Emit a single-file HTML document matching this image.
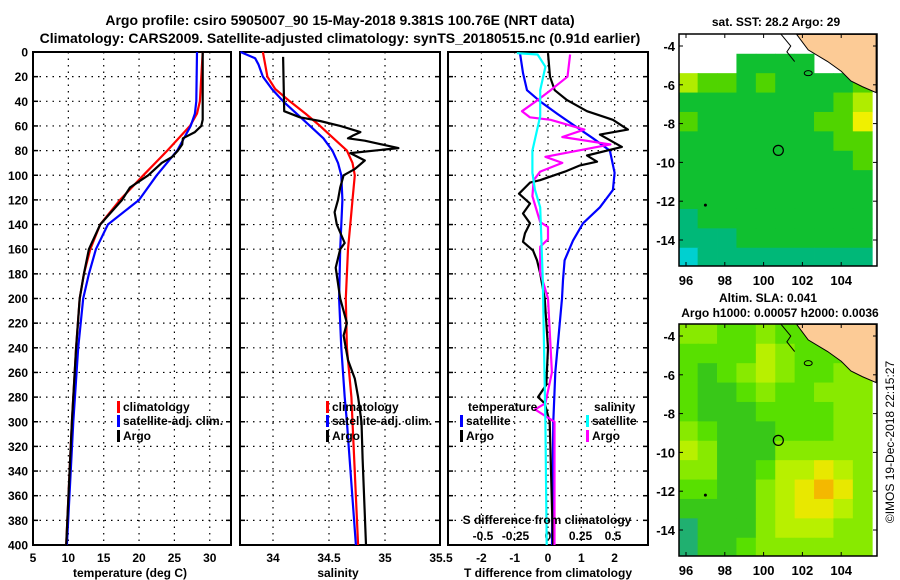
<!DOCTYPE html>
<html><head><meta charset="utf-8"><style>
html,body{margin:0;padding:0;background:#fff;}
svg{display:block;font-family:"Liberation Sans",sans-serif;font-weight:bold;}
</style></head><body>
<svg id="fig" width="900" height="580" viewBox="0 0 900 580" xmlns="http://www.w3.org/2000/svg">
<text x="340" y="25" font-size="14" text-anchor="middle">Argo profile: csiro 5905007_90 15-May-2018 9.381S 100.76E (NRT data)</text>
<text x="340" y="43" font-size="14" text-anchor="middle">Climatology: CARS2009. Satellite-adjusted climatology: synTS_20180515.nc (0.91d earlier)</text>
<g id="plots"></g>
</svg>
<script>
// ---- data: temperature panel ----
const tClimDepth=[0,40,50,60,80,100,120,140,160,180,200,240,300,400];
const tClim=[29.0,28.6,28.2,27.2,24.0,20.6,17.3,14.5,13.1,12.2,11.6,11.1,10.5,9.7];
const tSatDepth=[0,40,50,60,80,100,120,140,160,180,200,240,300,400];
const tSat=[28.2,28.1,27.9,27.3,25.4,22.5,20.0,15.6,13.9,12.9,12.1,11.4,10.7,9.8];
const tArgoDepth=[0,55,60,65,70,75,80,85,90,100,110,120,140,160,180,200,240,300,400];
const tArgo=[29.0,29.0,28.8,27.9,26.2,26.1,25.5,24.7,23.2,21.3,18.7,17.6,14.5,12.9,12.2,11.6,11.1,10.5,9.7];
// ---- data: salinity panel ----
const sClimDepth=[0,20,30,40,50,60,70,80,90,100,120,140,160,200,240,280,300,400];
const sClim=[33.91,33.95,34.02,34.15,34.29,34.42,34.54,34.66,34.71,34.73,34.71,34.69,34.67,34.65,34.66,34.70,34.71,34.76];
const sSatDepth=[0,5,10,20,30,40,50,60,70,80,90,100,120,160,200,240,280,300,400];
const sSat=[33.71,33.84,33.87,33.91,33.99,34.09,34.21,34.33,34.45,34.53,34.58,34.61,34.62,34.60,34.59,34.61,34.64,34.66,34.74];
const sArgoDepth=[4,48,53,56,60,65,68,70,72,78,82,88,95,100,110,120,130,140,155,160,175,200,220,230,250,265,280,300,330,400];
const sArgo=[34.09,34.10,34.24,34.42,34.60,34.78,34.71,34.67,34.82,35.12,34.69,34.82,34.73,34.63,34.60,34.58,34.55,34.57,34.64,34.60,34.56,34.60,34.66,34.63,34.67,34.73,34.76,34.79,34.80,34.83];
// ---- data: difference panel ----
const dTSatDepth=[1,17,31,40,50,59,70,80,98,112,126,139,153,169,185,200,260,300,400];
const dTSat=[-0.84,-0.75,-0.63,-0.24,0.27,0.75,1.35,1.86,2.0,1.95,1.56,1.05,0.75,0.5,0.45,0.42,0.22,0.16,0.12];
const dTArgoDepth=[1,20,31,39,48,55,63,67,77,84,89,92,97,104,106,115,123,131,139,147,154,161,169,179,200,240,270,280,285,300,400];
const dTArgo=[0,0.06,0.2,0.57,1.17,1.95,2.4,1.56,2.22,1.17,1.47,0.96,0.51,-0.24,-0.54,-0.87,-0.54,-0.75,-0.54,-0.69,-0.75,-0.45,-0.33,-0.24,-0.1,0,-0.05,-0.3,-0.1,0.05,0.15];
const dSArgoDepth=[2,20,31,39,48,53,55,63,69,75,85,90,97,104,117,131,138,142,152,158,179,200,260,285,290,300,400];
const dSArgo=[0.17,0.15,0.02,-0.08,-0.2,-0.14,0.02,0.28,0.11,0.48,-0.02,0.11,-0.06,-0.11,-0.12,-0.08,-0.06,0,0,-0.06,-0.06,0.0,0.03,-0.02,-0.1,0.05,0.05];
const dSSatDepth=[1,2,12,31,52,80,98,112,126,185,300,400];
const dSSat=[-0.24,-0.08,-0.02,-0.06,-0.06,-0.12,-0.12,-0.1,-0.06,-0.04,-0.02,-0.01];
// ---- tick labels ----
const depthTicks=[0,20,40,60,80,100,120,140,160,180,200,220,240,260,280,300,320,340,360,380,400];
const tTicks=[5,10,15,20,25,30];
const sTicks=[34,34.5,35,35.5];
const dTTicks=[-2,-1,0,1,2];
const dSTicks=[-0.5,-0.25,0,0.25,0.5];
const latTicks=[-4,-6,-8,-10,-12,-14];
const lonTicks=[96,98,100,102,104];
// ---- map grids (1-degree cells, rows from -3.4 southward, cols from 95.6 eastward) ----
const sstGrid=[
[-1,-1,-1,-1,-1,-1,-1,-1,-1,-1],
[-1,-1,-1,2,2,2,2,-1,-1,-1],
[4,3,3,2,3,2,2,2,2,3],
[2,2,2,2,2,2,2,2,3,4],
[3,2,2,2,2,2,2,3,3,5],
[2,2,2,2,2,2,2,2,3,3],
[2,2,2,2,2,2,2,2,2,3],
[2,2,2,2,2,2,2,2,2,2],
[2,2,2,2,2,2,2,2,2,2],
[1,2,2,2,2,2,2,2,2,2],
[1,1,1,2,2,2,2,2,2,2],
[0,1,1,1,1,1,1,1,1,1]];
const slaGrid=[
[3,3,2,2,3,2,2,2,2,2],
[2,2,2,2,4,3,2,2,2,2],
[2,1,2,3,4,3,2,2,3,3],
[2,1,1,2,3,2,2,3,3,3],
[2,1,1,1,2,2,2,2,3,3],
[3,2,1,1,1,2,2,2,3,3],
[4,3,1,1,1,3,3,3,3,3],
[3,3,1,1,2,4,4,5,4,3],
[2,2,1,1,3,4,5,6,5,3],
[1,1,1,1,3,4,5,5,4,3],
[0,1,1,1,3,4,4,4,3,3],
[0,1,1,2,3,3,3,3,3,3]];

const NS='http://www.w3.org/2000/svg';
const root=document.getElementById('plots');
function el(tag,attrs,parent,txt){const e=document.createElementNS(NS,tag);for(const k in attrs)e.setAttribute(k,attrs[k]);if(txt!==undefined)e.textContent=txt;(parent||root).appendChild(e);return e;}
const yD=d=>52+d*1.2325;
const xT=t=>33+(t-5)*7.07;
const xS=s=>273+(s-34)*112;
const xDT=t=>548+t*33.3;
const xDS=s=>548+s*130;
const TOP=52,BOT=545;

function panel(x0,x1,name,vTicks,xf,labels){
  const g=el('g',{});
  
  
  depthTicks.forEach(d=>{ if(d>0&&d<400){el('line',{x1:x0,x2:x1,y1:yD(d),y2:yD(d),stroke:'#000','stroke-width':1.2,'stroke-dasharray':'1.5,5'},g);}
    el('line',{x1:x0,x2:x0+5,y1:yD(d),y2:yD(d),stroke:'#000','stroke-width':1.5},g);
    el('line',{x1:x1-5,x2:x1,y1:yD(d),y2:yD(d),stroke:'#000','stroke-width':1.5},g);});
  vTicks.forEach(v=>{const x=xf(v); if(x>x0+2&&x<x1-2) el('line',{x1:x,x2:x,y1:TOP,y2:BOT,stroke:'#000','stroke-width':1.2,'stroke-dasharray':'1.5,5'},g);});
  if(labels) labels.forEach(v=>{const t=el('text',{x:xf(v),y:562,'font-size':12,'text-anchor':'middle'},g,String(v));
    
    });
  el('rect',{x:x0,y:TOP,width:x1-x0,height:BOT-TOP,fill:'none',stroke:'#000','stroke-width':2},g);
  return g;
}
function line(depths,vals,xf,color,name){
  const pts=depths.map((d,i)=>xf(vals[i]).toFixed(1)+','+yD(d).toFixed(1)).join(' ');
  const p=el('polyline',{points:pts,fill:'none',stroke:color,'stroke-width':2.2,'stroke-linejoin':'round'});
  
  
}
// y tick labels
depthTicks.forEach(d=>{const t=el('text',{x:28,y:yD(d)+4.5,'font-size':12,'text-anchor':'end'},root,String(d));
  
  });
panel(33,231,'temperature-panel',[10,15,20,25,30],xT,tTicks);
panel(240,440,'salinity-panel',sTicks,xS,null);
sTicks.forEach(v=>{const t=el('text',{x:xS(v),y:562,'font-size':12,'text-anchor':'middle'},root,String(v));
  
  });
const sl=el('text',{x:xS(33.7),y:562,'font-size':12,'text-anchor':'start'},root,'');
panel(448,648,'difference-panel',dTTicks,xDT,dTTicks);
dSTicks.forEach(v=>{const t=el('text',{x:xDS(v),y:540,'font-size':12,'text-anchor':'middle'},root,String(v));
  
  });

line(tClimDepth,tClim,xT,'#f00','temp-climatology-line');
line(tSatDepth,tSat,xT,'#00f','temp-satellite-line');
line(tArgoDepth,tArgo,xT,'#000','temp-argo-line');
line(sClimDepth,sClim,xS,'#f00','sal-climatology-line');
line(sSatDepth,sSat,xS,'#00f','sal-satellite-line');
line(sArgoDepth,sArgo,xS,'#000','sal-argo-line');
line(dTSatDepth,dTSat,xDT,'#00f','tdiff-satellite-line');
line(dTArgoDepth,dTArgo,xDT,'#000','tdiff-argo-line');
line(dSArgoDepth,dSArgo,xDS,'#f0f','sdiff-argo-line');
line(dSSatDepth,dSSat,xDS,'#0ff','sdiff-satellite-line');

function legendRow(x,y,color,label,name){
  el('rect',{x:x,y:y-10,width:3,height:12,fill:color});
  const t=el('text',{x:x+6,y:y,'font-size':12},root,label);
  
  
}
legendRow(117,411,'#f00','climatology','legend-climatology');
legendRow(117,425,'#00f','satellite-adj. clim.','legend-satellite');
legendRow(117,440,'#000','Argo','legend-argo');
legendRow(326,411,'#f00','climatology','legend-climatology-sal');
legendRow(326,425,'#00f','satellite-adj. clim.','legend-satellite-sal');
legendRow(326,440,'#000','Argo','legend-argo-sal');
el('text',{x:468,y:411,'font-size':12},root,'temperature');
legendRow(460,425,'#00f','satellite','legend-tdiff-satellite');
legendRow(460,440,'#000','Argo','legend-tdiff-argo');
el('text',{x:594,y:411,'font-size':12},root,'salinity');
legendRow(586,425,'#0ff','satellite','legend-sdiff-satellite');
legendRow(586,440,'#f0f','Argo','legend-sdiff-argo');
el('text',{x:547,y:524,'font-size':12,'text-anchor':'middle'},root,'S difference from climatology');
el('text',{x:130,y:577,'font-size':12,'text-anchor':'middle'},root,'temperature (deg C)');
el('text',{x:338,y:577,'font-size':12,'text-anchor':'middle'},root,'salinity');
el('text',{x:548,y:577,'font-size':12,'text-anchor':'middle'},root,'T difference from climatology');

// ---- maps ----
const sstColors={0:'#00d0d0',1:'#00b878',2:'#10c030',3:'#50d400',4:'#b0ec00',5:'#f0f000'};
const slaColors={0:'#20b070',1:'#38c818',2:'#58e000',3:'#88ea00',4:'#b8f000',5:'#e8e800',6:'#f4b800'};
function drawMap(y0,grid,colors,name){
  const x0=679,x1=877,y1=y0+232;
  const lx=lon=>686+(lon-96)*19.4;
  const ly=lat=>y0+12+(-4-lat)*19.4;
  const g=el('g',{});
  
  
  const cw=x=>x;
  grid.forEach((row,r)=>row.forEach((v,c)=>{ if(v<0) return;
    const xa=lx(95.6+c),ya=ly(-3.4-r);
    const cell=el('rect',{x:Math.max(xa,x0),y:ya,width:Math.min(19.8,x1-xa),height:Math.min(19.8,y1-ya),fill:colors[v]},g);
    
    }));
  const land=[[101.7,-3.4],[102.3,-4.2],[103.3,-4.8],[104,-5.3],[104.5,-5.8],[105.1,-6.1],[105.8,-6.4],[105.8,-3.4]];
  el('polygon',{points:land.map(p=>lx(p[0])+','+ly(p[1])).join(' '),fill:'#fccb96',stroke:'#000','stroke-width':1},g);
  el('polyline',{points:[[100.9,-3.4],[101.4,-4.0],[101.2,-4.3],[101.6,-4.8]].map(p=>lx(p[0])+','+ly(p[1])).join(' '),fill:'none',stroke:'#000','stroke-width':1},g);
  el('ellipse',{cx:lx(102.3),cy:ly(-5.4),rx:4,ry:2.5,fill:'none',stroke:'#000','stroke-width':1},g);
  el('circle',{cx:lx(97),cy:ly(-12.2),r:1.5,fill:'#000'},g);
  const c=el('circle',{cx:lx(100.76),cy:ly(-9.38),r:5,fill:'none',stroke:'#000','stroke-width':1.2},g);
  
  
  el('rect',{x:x0,y:y0,width:x1-x0,height:y1-y0,fill:'none',stroke:'#000','stroke-width':1.5},g);
  latTicks.forEach(l=>{el('line',{x1:x0,x2:x0+4,y1:ly(l),y2:ly(l),stroke:'#000'},g);el('line',{x1:x1-4,x2:x1,y1:ly(l),y2:ly(l),stroke:'#000'},g);
    el('text',{x:x0-4,y:ly(l)+5,'font-size':13,'text-anchor':'end'},g,String(l));});
  lonTicks.forEach(l=>{el('line',{x1:lx(l),x2:lx(l),y1:y0,y2:y0+4,stroke:'#000'},g);el('line',{x1:lx(l),x2:lx(l),y1:y1-4,y2:y1,stroke:'#000'},g);
    el('text',{x:lx(l),y:y1+19,'font-size':13,'text-anchor':'middle'},g,String(l));});
}
drawMap(34,sstGrid,sstColors,'sst-map');
drawMap(324,slaGrid,slaColors,'sla-map');
el('text',{x:776,y:26,'font-size':12,'text-anchor':'middle'},root,'sat. SST: 28.2 Argo: 29');
el('text',{x:768,y:302,'font-size':12,'text-anchor':'middle'},root,'Altim. SLA: 0.041');
el('text',{x:780,y:317,'font-size':12,'text-anchor':'middle'},root,'Argo h1000: 0.00057 h2000: 0.0036');
el('text',{x:0,y:0,'font-size':12,'font-weight':'normal','text-anchor':'middle',transform:'translate(894,442) rotate(-90)'},root,'©IMOS 19-Dec-2018 22:15:27');
</script>
</body></html>
